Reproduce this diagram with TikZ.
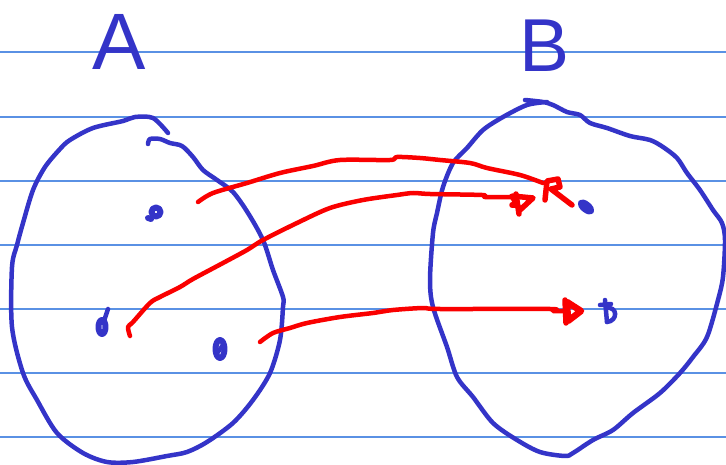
\documentclass[tikz,border=0pt]{standalone}
\usepackage{fontspec}
\setmainfont{Liberation Sans}
\definecolor{penblue}{RGB}{52,52,200}
\definecolor{penred}{RGB}{250,0,0}
\definecolor{ruled}{RGB}{90,145,228}
\tikzset{
  bluepen/.style={draw=penblue, line width=4.5pt, line cap=round, line join=round},
  redpen/.style={draw=penred, line width=4.5pt, line cap=round, line join=round},
  headpen/.style={draw=penred, line width=5.5pt, line cap=round, line join=round},
  dotpen/.style={draw=penblue, line width=6pt, line cap=round, line join=round},
  ruleline/.style={draw=ruled, line width=1.2pt},
  setlabel/.style={text=penblue, inner sep=0pt, anchor=base west, font=\fontsize{80}{80}\selectfont},
}
\begin{document}
\begin{tikzpicture}[x=1pt,y=-1pt]
\useasboundingbox (0,0) rectangle (726,465);
% ruled notebook lines
\foreach \yy in {52,117,181,245,309,373,437}
  \draw[ruleline] (0,\yy) -- (726,\yy);
% set labels
\node[setlabel] (labA) at (92,70) {A};
\node[setlabel, font=\fontsize{75}{75}\selectfont] (labB) at (519,72) {B};
% set A outline
\draw[bluepen] plot[smooth, tension=0.5] coordinates {(148,144) (150,139) (160,139) (170,143) (182,146) (193,157) (203,170) (217,180) (233,192) (248,213) (263,240) (273,270) (283,297) (283,307) (280,340) (270,373) (253,400) (233,423) (207,442) (187,452) (167,456) (133,462) (107,462) (83,453) (57,433) (37,400) (23,373) (12,327) (12,267) (17,245) (23,223) (33,190) (45,167) (60,149) (70,140) (93,128) (123,121) (135,117) (153,118) (168,133)};
% set B outline
\draw[bluepen] plot[smooth, tension=0.5] coordinates {(525,100) (543,102) (553,105) (567,112) (580,115) (590,123) (607,128) (630,136) (650,140) (663,147) (677,158) (687,173) (700,190) (713,210) (722,223) (725,240) (723,277) (718,300) (707,337) (693,357) (680,373) (660,393) (633,413) (613,430) (593,440) (573,453) (565,456) (540,452) (517,440) (493,423) (473,397) (457,377) (447,347) (433,307) (430,280) (433,233) (437,213) (443,187) (453,163) (467,148) (483,130) (503,117) (527,105) (547,102)};
% elements of A
\coordinate (a1) at (156,212);
\coordinate (a2) at (102,327);
\coordinate (a3) at (220,349);
\draw[dotpen] (a1) circle (4.5pt);
\draw[dotpen] (151,219) -- (148,218);
\draw[bluepen] (108,309) -- (104,321);
\draw[dotpen] (a2) ellipse (3.5pt and 7pt);
\draw[dotpen] (a3) ellipse (4.5pt and 9pt);
\draw[bluepen] (217,353) -- (223,345);
% elements of B
\coordinate (b1) at (586,207);
\coordinate (b2) at (607,312);
\draw[dotpen, rotate around={-40:(b1)}] (b1) ellipse (6.5pt and 2.5pt);
\draw[bluepen] (605,300) -- (607,322);
\draw[bluepen] (600,305) -- (611,304);
\draw[bluepen] (606,308) .. controls (618,306) and (618,321) .. (607,322);
% arrow 1 (top)
\coordinate (s1) at (198,202);
\coordinate (e1) at (543,183);
\draw[redpen] plot[smooth, tension=0.5] coordinates {(s1) (213,193) (247,183) (280,173) (313,166) (340,160) (390,160) (397,157) (420,158) (440,160) (470,163) (487,168) (520,175) (e1)};
\draw[headpen] (545,200) -- (547,181) -- (558,179) -- (560,187) -- (551,189) -- (572,205);
% arrow 2 (middle)
\coordinate (s2) at (130,336);
\coordinate (e2) at (512,197);
\draw[redpen] plot[smooth, tension=0.5] coordinates {(s2) (128,327) (133,322) (150,303) (160,297) (180,287) (193,279) (223,263) (247,250) (263,240) (297,223) (330,208) (363,200) (397,195) (413,193) (430,194) (482,195) (485,197) (e2)};
\draw[headpen] (512,196) -- (533,198) -- (520,210) -- cycle;
\draw[headpen] (516,194) -- (519,214);
\draw[headpen] (512,205) -- (517,205);
% arrow 3 (bottom)
\coordinate (s3) at (260,342);
\coordinate (e3) at (565,311);
\draw[redpen] plot[smooth, tension=0.5] coordinates {(s3) (273,333) (290,328) (307,323) (340,317) (373,313) (393,310) (423,308) (440,309) (550,309) (553,311) (e3)};
\draw[redpen, line width=6.5pt, line join=round] (567,302) -- (581,311) -- (568,321) -- cycle;
\draw[headpen] (565,300) -- (566,323);
\end{tikzpicture}
\end{document}
